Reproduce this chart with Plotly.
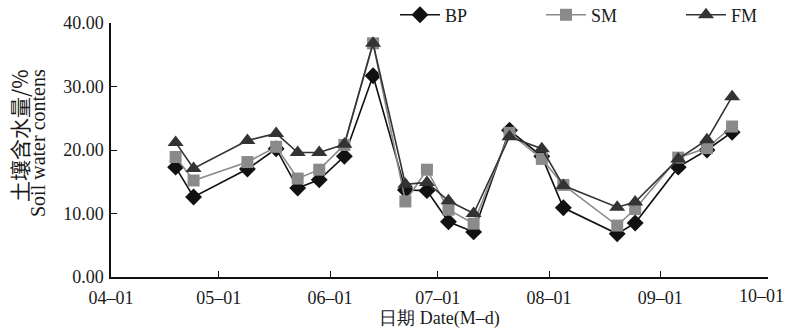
import plotly.graph_objects as go

dates = ["2019-04-19", "2019-04-24", "2019-05-09", "2019-05-17", "2019-05-23",
         "2019-05-29", "2019-06-05", "2019-06-13", "2019-06-22", "2019-06-28",
         "2019-07-04", "2019-07-11", "2019-07-21", "2019-07-30", "2019-08-05",
         "2019-08-20", "2019-08-25", "2019-09-06", "2019-09-14", "2019-09-21"]
bp = [17.3, 12.6, 17.0, 20.2, 14.0, 15.3, 19.0, 31.7, 13.7, 13.6,
      8.7, 7.1, 23.1, 19.0, 10.9, 6.8, 8.5, 17.3, 20.0, 22.8]
sm = [18.9, 15.2, 18.1, 20.5, 15.5, 16.9, 20.8, 36.8, 11.9, 16.9,
      10.6, 8.4, 22.7, 18.6, 14.5, 8.1, 10.7, 18.8, 20.3, 23.7]
fm = [21.2, 17.1, 21.5, 22.6, 19.6, 19.6, 20.9, 36.8, 14.6, 14.9,
      12.0, 10.0, 22.1, 20.2, 14.4, 11.0, 11.8, 18.6, 21.6, 28.4]

tick_dates = ["2019-04-01", "2019-05-01", "2019-06-01", "2019-07-01",
              "2019-08-01", "2019-09-01", "2019-10-01"]
tick_labels = ["04–01", "05–01", "06–01", "07–01", "08–01", "09–01", "10–01"]
y_ticks = [0, 10, 20, 30, 40]

SERIF = "Liberation Serif, Times New Roman, serif"
PW, PH, L, B = 657, 254, 111, 55

fig = go.Figure()
fig.add_trace(go.Scatter(x=dates, y=bp, name="BP", mode="lines+markers", legend="legend",
                         line=dict(color="#111111", width=1.6),
                         marker=dict(symbol="diamond", size=13, color="#111111")))
fig.add_trace(go.Scatter(x=dates, y=sm, name="SM", mode="lines+markers", legend="legend2",
                         line=dict(color="#8a8a8a", width=1.6),
                         marker=dict(symbol="square", size=12, color="#8a8a8a")))
fig.add_trace(go.Scatter(x=dates, y=fm, name="FM", mode="lines+markers", legend="legend3",
                         line=dict(color="#333333", width=1.6),
                         marker=dict(symbol="triangle-up", size=14, color="#333333")))

def leg(px):
    return dict(x=(px - L) / PW, xanchor="left", y=(277 - 15) / PH, yanchor="middle",
                itemwidth=40, font=dict(family=SERIF, size=18), bgcolor="rgba(0,0,0,0)",
                borderwidth=0, tracegroupgap=0)

# last tick label is drawn as an annotation nudged left so it stays inside the page
shown_ticktext = tick_labels[:-1] + [""]

fig.update_layout(
    width=789, height=332,
    margin=dict(l=L, r=21, t=23, b=B, autoexpand=False),
    paper_bgcolor="white", plot_bgcolor="white",
    font=dict(family=SERIF, size=17, color="#1a1a1a"),
    showlegend=True,
    legend=leg(395), legend2=leg(541), legend3=leg(681),
    xaxis=dict(type="date", range=["2019-04-01", "2019-10-01"],
               tickvals=tick_dates, ticktext=shown_ticktext,
               showgrid=False, zeroline=False,
               showline=True, linecolor="#111111", linewidth=1.5,
               ticks="inside", ticklen=6, tickcolor="#111111", tickwidth=1.3,
               tickfont=dict(family=SERIF, size=18), ticklabelstandoff=4,
               title=dict(text="日期 Date(M–d)", font=dict(family=SERIF, size=18),
                          standoff=0)),
    yaxis=dict(range=[0, 40], tickvals=y_ticks, tickformat=".2f",
               showgrid=False, zeroline=False,
               showline=True, linecolor="#111111", linewidth=1.5,
               ticks="inside", ticklen=6, tickcolor="#111111", tickwidth=1.3,
               tickfont=dict(family=SERIF, size=18), ticklabelstandoff=2),
)

fig.add_annotation(text=tick_labels[-1], xref="paper", yref="paper",
                   x=(761 - L) / PW, y=(277 - 296) / PH, xanchor="center",
                   yanchor="middle", showarrow=False, borderpad=0,
                   font=dict(family=SERIF, size=18, color="#1a1a1a"))

fig.add_annotation(text="土壤含水量/%", textangle=-90, xref="paper", yref="paper",
                   x=(19 - L) / PW, y=(277 - 136) / PH, xanchor="center",
                   yanchor="middle", showarrow=False,
                   font=dict(family="Noto Sans CJK SC, " + SERIF, size=21, color="#1a1a1a"))
fig.add_annotation(text="Soil water contens", textangle=-90, xref="paper", yref="paper",
                   x=(38 - L) / PW, y=(277 - 143) / PH, xanchor="center",
                   yanchor="middle", showarrow=False,
                   font=dict(family=SERIF, size=20, color="#1a1a1a"))

fig.write_html("out.html", config={"displayModeBar": False},
               post_script="document.body.style.margin='0';document.body.style.overflow='hidden';")
